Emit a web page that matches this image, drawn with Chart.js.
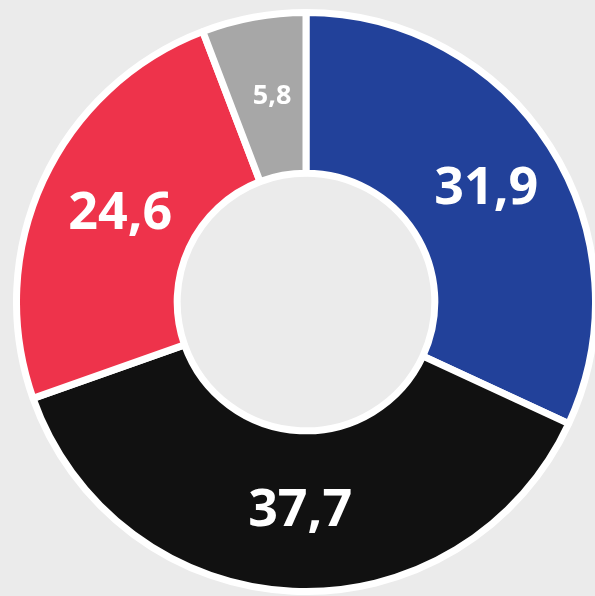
<!DOCTYPE html>
<html>
<head>
<meta charset="utf-8">
<script src="https://cdn.jsdelivr.net/npm/chart.js@4/dist/chart.umd.min.js"></script>
<style>
  html, body { margin: 0; padding: 0; background: #ebebeb; overflow: hidden; }
  #wrap { position: absolute; left: 13px; top: 9px; width: 586px; height: 586px; }
</style>
</head>
<body>
<div id="wrap"><canvas id="chart"></canvas></div>
<script>
// values, clockwise from 12 o'clock
var partidos = ['A', 'B', 'C', 'D'];
var valores = [31.9, 37.7, 24.6, 5.8];
var colores = ['#22419a', '#111111', '#ee334b', '#a7a7a7'];

// write the numbers inside each slice
var etiquetas = {
    id: 'etiquetas',
    afterDatasetsDraw: function(chart) {
        var ctx = chart.ctx;
        var meta = chart.getDatasetMeta(0);
        ctx.save();
        ctx.fillStyle = '#ffffff';
        ctx.textAlign = 'center';
        ctx.textBaseline = 'middle';
        meta.data.forEach(function(arc, i) {
            var v = chart.data.datasets[0].data[i];
            var p = arc.tooltipPosition();
            var size = v < 10 ? 27 : 52;
            ctx.font = 'bold ' + size + 'px "Open Sans"';
            ctx.fillText(v.toFixed(1).replace('.', ','), p.x + 4, p.y);
        });
        ctx.restore();
    }
};

var crx = document.getElementById('chart').getContext('2d');
var myChart = new Chart(crx, {
    type: 'doughnut',
    data: {
        labels: partidos,
        datasets: [{
            data: valores,
            backgroundColor: colores,
            borderColor: '#ffffff',
            borderWidth: 7
        }]
    },
    options: {
        responsive: true,
        maintainAspectRatio: false,
        animation: false,
        cutout: '44.5%',
        layout: { padding: 0 },
        plugins: {
            legend: { display: false },
            tooltip: { enabled: false }
        }
    },
    plugins: [etiquetas]
});
</script>
</body>
</html>
